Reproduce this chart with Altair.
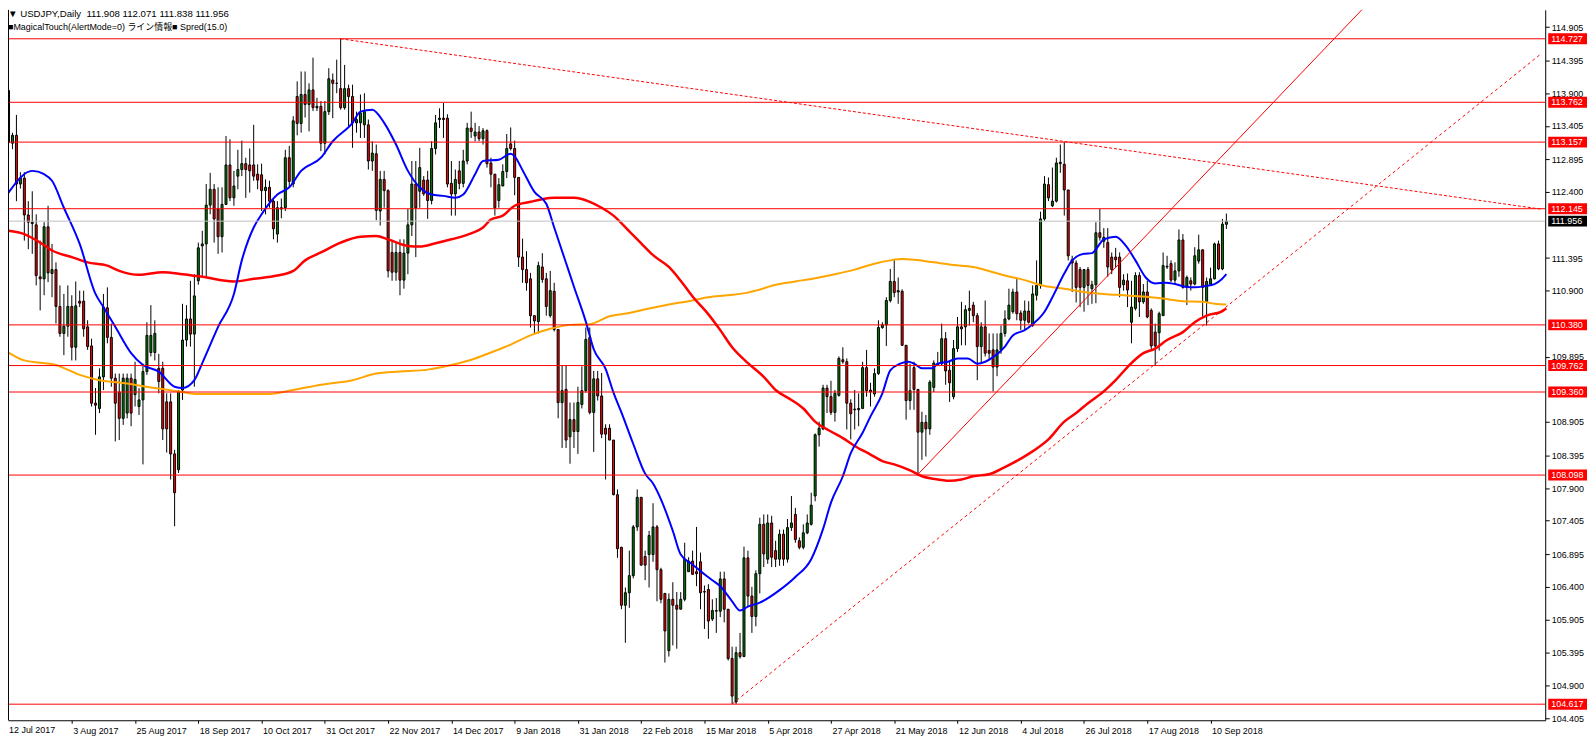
import altair as alt
import pandas as pd

# ---------------- data ----------------
OPEN = [
113.94,113.14,113.26,112.52,112.61,112.05,111.94,111.90,111.11,111.08,
111.87,111.16,111.22,110.66,110.25,110.36,110.66,110.04,110.74,110.74,
110.35,110.06,109.19,109.11,109.59,110.64,110.19,109.57,109.36,108.96,
109.04,109.57,109.32,109.14,109.24,109.67,109.96,109.96,109.72,109.72,
109.21,109.21,108.42,108.18,109.39,110.15,110.47,110.24,111.05,111.58,
111.61,112.20,112.44,112.14,111.72,112.21,112.81,112.31,112.64,112.74,
112.83,112.81,112.81,112.67,112.66,112.42,112.47,112.26,111.76,112.16,
112.16,112.92,112.52,113.85,113.44,113.88,113.73,113.95,113.70,113.70,
113.14,113.62,114.10,114.05,113.97,113.68,113.97,113.85,113.45,113.45,
113.42,113.42,112.87,112.98,112.11,112.59,112.42,111.48,111.18,111.48,
111.06,111.47,111.90,112.52,112.41,112.58,112.58,112.27,113.06,113.50,
113.52,113.52,112.53,112.37,112.72,112.53,112.87,113.37,113.25,113.31,
113.21,113.33,112.84,112.67,112.27,112.49,112.71,113.13,113.06,112.62,
111.41,111.22,111.08,110.52,110.43,111.26,111.08,110.52,110.89,110.31,
109.20,109.40,108.68,108.94,108.76,109.17,109.38,110.19,109.05,109.56,
109.30,108.81,108.81,108.63,107.80,107.00,106.12,106.31,106.57,107.31,
107.76,106.86,106.89,106.89,107.31,106.66,106.30,105.43,106.21,106.12,
106.06,106.21,106.63,106.79,106.63,106.78,106.33,106.36,105.91,106.03,
106.03,106.52,106.06,105.31,104.65,105.40,105.34,106.84,106.26,105.95,
106.60,107.35,106.82,107.37,106.95,106.82,107.20,106.82,107.30,107.50,
107.10,107.00,107.22,107.35,107.78,108.71,108.80,109.42,109.29,109.05,
109.31,109.85,109.82,109.19,109.10,109.09,109.11,109.73,109.39,109.33,
109.64,110.34,110.38,110.75,111.04,110.88,110.89,110.07,109.23,109.73,
109.40,108.75,108.90,108.80,109.43,109.79,109.79,110.17,109.69,109.29,
110.02,110.35,110.35,110.60,110.68,110.52,110.05,110.35,109.99,110.00,
109.74,110.00,110.25,110.47,110.58,110.88,110.56,110.45,110.59,110.37,
110.83,110.98,111.99,112.51,112.19,112.26,112.85,112.82,112.43,111.37,
111.32,111.22,110.95,111.22,110.93,110.99,111.78,111.65,111.63,111.41,
111.41,111.41,110.99,111.05,110.42,110.63,111.13,110.73,110.88,110.60,
110.27,110.26,110.52,111.26,111.31,111.06,111.20,111.67,110.95,111.05,
111.00,111.35,111.52,110.73,111.00,111.08,111.61,111.23,111.908]

HIGH = [
113.96,113.30,113.57,112.70,112.70,112.26,112.41,112.06,111.66,111.94,
112.19,111.61,111.33,110.98,110.85,110.98,110.83,111.04,110.90,110.90,
110.45,110.17,109.42,109.72,110.85,110.95,110.40,109.64,109.64,109.64,
109.64,109.64,109.82,109.42,109.79,110.42,110.68,110.45,109.94,109.82,
109.34,109.34,108.48,109.39,110.70,110.68,111.05,111.15,111.63,111.81,
112.52,112.69,112.52,112.47,112.47,113.25,113.20,112.72,113.04,113.18,
112.92,113.06,113.42,112.82,112.83,112.59,112.57,112.29,112.26,112.30,
113.04,113.10,113.55,114.08,114.23,114.23,114.05,114.44,113.83,113.78,
113.78,114.28,114.20,114.41,114.73,114.33,114.03,114.03,113.62,113.88,
113.90,113.50,113.17,113.12,112.72,112.72,112.44,111.66,111.63,111.68,
111.68,112.14,112.87,112.87,113.07,112.64,112.72,113.17,113.57,113.67,
113.75,113.58,112.87,112.74,112.87,113.04,113.45,113.62,113.45,113.40,
113.37,113.35,112.92,112.67,112.61,112.82,113.28,113.38,113.18,112.62,
111.69,111.50,111.17,110.52,111.34,111.47,111.17,111.20,111.02,110.31,
109.77,109.77,109.20,109.20,109.44,109.75,110.34,110.34,109.68,109.68,
109.65,108.87,108.87,108.63,107.88,107.01,106.39,106.95,107.34,107.88,
107.76,106.95,107.25,107.67,107.34,106.69,106.30,106.30,106.47,106.32,
106.32,107.07,106.85,106.95,107.31,106.92,106.42,106.44,106.21,106.23,
106.63,106.63,106.06,105.49,105.49,105.70,107.01,106.95,106.40,106.65,
107.45,107.50,107.50,107.48,107.10,107.27,107.27,107.43,107.78,107.60,
107.15,107.35,107.50,107.83,108.73,108.91,109.47,109.47,109.53,109.39,
109.90,110.04,109.87,109.25,109.39,109.34,109.82,110.00,109.50,109.72,
110.45,110.42,110.80,111.23,111.38,111.10,110.92,110.07,109.79,109.82,
109.40,109.06,109.01,109.54,109.84,109.97,110.40,110.27,109.84,110.15,
110.50,110.73,110.68,110.90,110.73,110.56,110.42,110.75,110.25,110.25,
110.25,110.37,110.60,110.93,110.93,111.08,110.60,110.75,110.74,110.98,
111.36,112.10,112.64,112.62,112.77,112.92,113.12,113.16,112.43,111.43,
111.36,111.26,111.23,111.26,111.05,111.94,112.14,111.85,111.85,111.48,
111.55,111.48,111.15,111.16,111.05,111.18,111.18,111.00,111.05,110.63,
110.40,110.58,111.48,111.43,111.36,111.33,111.83,111.76,111.13,111.10,
111.56,111.75,111.53,111.10,111.25,111.63,111.66,111.99,112.071]

LOW = [
112.92,113.05,112.26,112.45,111.66,111.53,111.46,110.98,110.60,110.83,
111.03,110.80,110.40,110.20,109.92,110.20,109.84,109.84,110.65,110.20,
110.00,109.14,108.71,109.04,109.39,110.10,109.44,108.61,108.63,108.86,
108.96,108.84,109.14,109.01,108.26,109.62,109.90,109.84,109.34,108.63,
108.44,108.03,107.32,108.13,109.24,110.05,110.05,109.44,110.99,111.10,
111.10,112.06,111.63,111.46,111.48,112.21,112.26,112.19,112.44,112.64,
112.31,112.39,112.57,112.44,112.11,112.06,112.16,111.68,111.63,112.00,
112.11,112.47,112.47,113.26,113.30,113.53,113.32,113.63,113.63,113.02,
112.97,113.57,113.52,113.90,113.65,113.65,113.40,113.07,113.30,113.22,
113.22,112.74,112.72,111.97,111.89,112.16,111.10,111.05,111.05,110.83,
110.93,111.15,111.73,111.41,112.16,112.34,111.99,112.21,112.97,113.37,
113.22,112.47,112.04,112.04,112.44,112.47,112.82,113.22,113.17,113.17,
113.12,112.77,112.47,112.04,112.16,112.49,112.61,113.03,112.35,111.26,
111.02,110.90,110.34,110.25,110.25,111.02,110.52,110.49,110.28,108.96,
108.51,108.51,108.27,108.51,108.42,109.11,109.35,109.02,108.45,109.23,
108.66,108.03,108.63,107.79,106.84,106.06,105.55,106.08,106.53,107.25,
106.72,106.50,106.39,106.78,106.18,106.15,105.25,105.34,105.51,105.46,
106.06,106.18,106.63,106.58,106.41,106.06,105.76,105.61,105.88,105.70,
105.94,105.86,105.28,104.62,104.62,105.31,105.34,106.10,105.70,105.80,
106.30,106.70,106.75,106.70,106.70,106.72,106.72,106.77,107.25,107.07,
106.97,106.97,107.20,107.33,107.70,108.53,108.78,109.04,109.01,108.91,
109.29,109.79,108.79,108.64,108.79,108.84,109.11,109.29,109.14,109.29,
109.62,110.32,110.06,110.72,110.80,110.70,110.06,108.94,109.09,109.09,
108.11,108.33,108.38,108.71,109.36,109.77,109.77,109.47,109.21,109.25,
109.97,110.07,110.07,110.37,110.42,109.54,109.80,109.90,109.85,109.37,
109.60,109.94,110.20,110.45,110.55,110.45,110.30,110.30,110.40,110.35,
110.75,110.93,111.96,112.26,112.17,112.24,112.69,112.04,111.36,110.88,
110.72,110.65,110.58,110.68,110.70,110.71,111.66,111.55,111.11,111.15,
111.25,110.80,110.90,110.65,110.10,110.60,110.50,110.70,110.48,110.00,
109.77,109.99,110.52,111.23,111.03,111.00,111.11,110.93,110.68,110.90,
110.98,111.31,110.50,110.37,110.98,111.07,111.21,111.21,111.838]

CLOSE = [
113.15,113.26,112.52,112.61,112.05,111.94,111.92,111.13,111.08,111.87,
111.17,111.22,110.66,110.25,110.36,110.66,110.04,110.67,110.71,110.32,
110.05,109.19,109.16,109.59,110.65,110.19,109.57,109.19,108.96,109.57,
109.57,109.04,109.55,109.24,109.67,110.22,110.22,110.25,109.52,108.80,
108.80,108.42,107.83,109.37,110.15,110.47,110.24,110.82,111.55,111.61,
112.20,112.44,111.99,111.72,112.21,112.81,112.31,112.49,112.74,112.83,
112.74,112.72,112.64,112.58,112.42,112.47,112.26,111.84,112.16,112.14,
112.92,112.56,113.48,113.44,113.88,113.73,113.95,113.68,113.68,113.14,
113.62,114.12,114.05,114.05,113.68,113.97,113.85,113.45,113.50,113.60,
113.62,112.87,112.99,112.12,112.59,112.42,111.20,111.18,111.48,111.06,
111.47,111.90,112.52,112.16,112.77,112.37,112.27,113.06,113.45,113.52,
113.50,112.52,112.37,112.59,112.53,112.87,113.37,113.32,113.31,113.21,
113.33,112.83,112.67,112.16,112.51,112.71,113.06,113.06,112.62,111.41,
111.22,111.02,110.52,110.44,111.28,111.07,110.66,110.90,110.31,109.20,
109.38,108.63,108.94,108.76,109.20,109.38,110.16,109.05,109.56,109.30,
108.72,108.72,108.63,107.80,106.98,106.12,106.31,106.57,107.31,107.76,
106.73,106.73,107.18,107.31,106.66,106.21,105.73,106.21,106.12,106.06,
106.21,106.82,106.79,106.59,106.60,106.31,106.32,105.88,106.04,106.04,
106.52,106.06,105.31,104.74,105.40,105.34,106.84,106.26,105.95,106.60,
107.35,106.90,107.37,106.85,106.82,107.20,106.82,107.30,107.37,107.12,
107.00,107.22,107.37,107.64,108.71,108.81,109.42,109.29,109.05,109.34,
109.87,109.82,109.19,109.03,109.09,109.11,109.73,109.38,109.36,109.64,
110.34,110.38,110.75,111.04,110.87,110.90,110.07,109.23,109.38,109.40,
108.75,108.90,108.80,109.51,109.80,109.78,110.17,109.68,109.50,110.02,
110.35,110.32,110.61,110.63,110.52,110.05,110.35,109.95,109.95,109.74,
110.00,110.25,110.47,110.68,110.88,110.55,110.45,110.59,110.42,110.85,
110.98,111.99,112.52,112.31,112.26,112.84,112.83,112.43,111.43,111.32,
110.95,110.95,111.22,110.98,110.99,111.78,111.71,111.71,111.26,111.22,
111.37,110.95,111.06,110.91,110.65,111.13,110.73,110.88,110.50,110.06,
110.06,110.55,111.28,111.27,111.06,111.20,111.67,110.95,111.10,111.00,
111.43,111.52,110.95,111.04,111.08,111.61,111.23,111.91,111.956]

# moving averages (bar index, value)
BLUE_I = [0,6,9,11,14,18,22,24,27,31,34,38,42,44,47,49,53,57,59,62,64,68,71,74,79,82,87,89,92,95,98,101,104,107,110,113,115,118,120,124,127,128,130,133,136,138,141,143,146,148,151,153,155,158,161,163,165,168,170,173,176,178,180,183,185,187,190,195,199,203,206,208,211,213,216,218,221,223,225.5,227.6,229,231,233.5,235,237.6,240,242.6,245,247,249,252,254,257,259,262,264,267,269,272,274,277,280,282.6,285,287.6,290,292.6,295,297.6,300,302.6,305,306.75,308]
BLUE_V = [112.39,112.72,112.67,112.57,112.16,111.61,110.85,110.65,110.35,109.95,109.77,109.67,109.44,109.42,109.54,109.80,110.35,110.85,111.36,111.86,112.06,112.36,112.47,112.72,112.92,113.17,113.45,113.62,113.65,113.45,113.12,112.72,112.47,112.36,112.34,112.31,112.36,112.67,112.87,112.89,112.98,112.94,112.73,112.40,112.22,111.86,111.32,110.96,110.43,110.01,109.71,109.35,109.05,108.57,108.12,107.97,107.73,107.25,106.89,106.74,106.59,106.50,106.41,106.18,106.04,106.10,106.16,106.35,106.55,106.82,107.28,107.68,108.08,108.43,108.74,108.99,109.34,109.69,109.79,109.82,109.79,109.72,109.72,109.79,109.82,109.87,109.87,109.79,109.82,109.89,110.05,110.22,110.30,110.39,110.58,110.80,111.16,111.36,111.46,111.47,111.68,111.72,111.58,111.36,111.10,111.01,111.02,111.00,110.96,110.95,110.97,111.00,111.07,111.15]

RED_I = [0,4,8,11,16,20,25,28,33,39,44,49,57,62,68,72,75,79,84,89,93,96,101,104,108,112,117,120,122,125,128,132,135,138,143,147,150,153,157,160,163,167,170,173,177,180,183,187,191,194,198,201,204,208,211,214,218,221,224,228,231,234,238,241,244,248,252,258,263,267,270,273,277,280,283,287,290,293,297,300,303,307,308]
RED_V = [111.81,111.76,111.63,111.51,111.41,111.33,111.28,111.20,111.14,111.18,111.15,111.11,111.04,111.08,111.13,111.20,111.36,111.48,111.63,111.72,111.73,111.68,111.58,111.57,111.62,111.68,111.77,111.86,111.98,112.04,112.19,112.25,112.29,112.31,112.31,112.25,112.16,112.04,111.80,111.62,111.44,111.26,111.05,110.81,110.54,110.30,110.04,109.80,109.59,109.39,109.24,109.11,108.91,108.76,108.66,108.54,108.41,108.31,108.26,108.17,108.08,108.04,108.01,108.03,108.08,108.11,108.22,108.42,108.64,108.91,109.04,109.19,109.37,109.54,109.74,109.95,110.02,110.15,110.27,110.42,110.52,110.59,110.63]

ORANGE_I = [0,4,12,18,23,30,37,43,48,66,72,79,87,93,99,106,112,118,122,127,132,137,142,147,152,157,162,167,172,177,182,187,189,194,199,204,209,214,219,223,226,229,234,239,244,249,252,257,262,267,272,277,282,287,292,297,302,305,308]
ORANGE_V = [109.96,109.84,109.77,109.62,109.54,109.49,109.42,109.37,109.33,109.33,109.39,109.47,109.54,109.64,109.67,109.70,109.77,109.87,109.96,110.08,110.22,110.32,110.38,110.39,110.51,110.56,110.63,110.69,110.74,110.80,110.83,110.87,110.90,110.99,111.04,111.09,111.15,111.22,111.31,111.36,111.38,111.37,111.33,111.29,111.26,111.18,111.13,111.06,110.97,110.93,110.88,110.85,110.83,110.81,110.78,110.74,110.73,110.70,110.69]

# trend lines: (bar index, price) end points
TREND_DOT_I = [84, 387.4]
TREND_DOT_V = [114.727, 112.14]
TREND_SOLID_I = [230, 345]
TREND_SOLID_V = [108.11, 115.34]
TREND_DASH_I = [183, 387.4]
TREND_DASH_V = [104.62, 114.49]

LEVELS = [114.727, 113.762, 113.157, 112.145, 110.380, 109.762, 109.360, 108.098, 104.617]
LAST_PRICE = 111.956

# axis ticks visible in the picture (the ones hidden under the price tags are left out)
Y_TICKS = [114.905, 114.395, 113.900, 113.405, 112.895, 112.400, 111.395, 110.900,
           109.895, 108.905, 108.395, 107.900, 107.405, 106.895, 106.400,
           105.905, 105.395, 104.900, 104.405]

DATE_LABELS = ["12 Jul 2017", "3 Aug 2017", "25 Aug 2017", "18 Sep 2017", "10 Oct 2017",
               "31 Oct 2017", "22 Nov 2017", "14 Dec 2017", "9 Jan 2018", "31 Jan 2018",
               "22 Feb 2018", "15 Mar 2018", "5 Apr 2018", "27 Apr 2018", "21 May 2018",
               "12 Jun 2018", "4 Jul 2018", "26 Jul 2018", "17 Aug 2018", "10 Sep 2018"]
DATE_IDX = [16 * k for k in range(len(DATE_LABELS))]

TITLE_1 = "\u25BC USDJPY,Daily\u00a0 111.908 112.071 111.838 111.956"
TITLE_2 = "\u25A0MagicalTouch(AlertMode=0) ライン情報\u25A0 Spred(15.0)"

# ---------------- chart ----------------
W, H = 1545, 714
FONT = "Liberation Sans"
XS = alt.Scale(domain=[1.125, 387.375], nice=False, zero=False)
YS = alt.Scale(domain=[104.3727, 115.1665], nice=False, zero=False)

label_expr = "[" + ",".join("'%s'" % s for s in DATE_LABELS) + "][round(datum.value/16)]"
XAX = alt.Axis(values=DATE_IDX[1:], labelExpr=label_expr, title=None, grid=False,
               orient="bottom", tickSize=3, labelPadding=3, labelAlign="left",
               labelBaseline="top", labelOffset=1, labelFont=FONT, labelFontSize=9,
               labelColor="black", domainColor="black", tickColor="black",
               labelOverlap=False, labelFlush=False, labelBound=False)
YAX = alt.Axis(orient="right", values=Y_TICKS, format=".3f", title=None, grid=False,
               tickSize=4, labelPadding=2, labelFont=FONT, labelFontSize=9,
               labelColor="black", domainColor="black", tickColor="black",
               labelOverlap=False, labelFlush=False, labelBound=False)


def X(field="i"):
    return alt.X(f"{field}:Q", scale=XS, axis=XAX)


def Y(field):
    return alt.Y(f"{field}:Q", scale=YS, axis=YAX)


candles = pd.DataFrame({"i": list(range(len(CLOSE))), "o": OPEN, "h": HIGH, "l": LOW, "c": CLOSE})

wicks = alt.Chart(candles).mark_rule(color="black", strokeWidth=1, clip=True).encode(
    x=X(), y=Y("l"), y2="h:Q")
bodies = alt.Chart(candles).mark_bar(size=2, stroke="black", strokeWidth=1, clip=True).encode(
    x=X(), y=Y("o"), y2="c:Q",
    fill=alt.condition("datum.c >= datum.o", alt.value("#008000"), alt.value("#ff0000")))


def ma(ix, vals, color, width):
    df = pd.DataFrame({"i": ix, "v": vals})
    return alt.Chart(df).mark_line(color=color, strokeWidth=width, clip=True,
                                   interpolate="monotone").encode(x=X(), y=Y("v"))


ma_orange = ma(ORANGE_I, ORANGE_V, "#ffa500", 2)
ma_red = ma(RED_I, RED_V, "#ff0000", 2.5)
ma_blue = ma(BLUE_I, BLUE_V, "#0000ff", 2)


def trend(ix, vals, dash=None):
    df = pd.DataFrame({"i": ix, "v": vals})
    kw = dict(color="#ff0000", strokeWidth=1, clip=True)
    if dash:
        kw["strokeDash"] = dash
    return alt.Chart(df).mark_line(**kw).encode(x=X(), y=Y("v"))


t_dot = trend(TREND_DOT_I, TREND_DOT_V, [3, 2])
t_solid = trend(TREND_SOLID_I, TREND_SOLID_V)
t_dash = trend(TREND_DASH_I, TREND_DASH_V, [3, 3])

levels_df = pd.DataFrame({"level": LEVELS})
level_rules = alt.Chart(levels_df).mark_rule(color="#ff0000", strokeWidth=1).encode(
    y=Y("level"), x=alt.value(0), x2=alt.value(W))
price_rule = alt.Chart(pd.DataFrame({"level": [LAST_PRICE]})).mark_rule(
    color="#c0c0c0", strokeWidth=1).encode(y=Y("level"), x=alt.value(0), x2=alt.value(W))

tags = pd.DataFrame({
    "level": LEVELS + [LAST_PRICE],
    "label": [f"{v:.3f}" for v in LEVELS + [LAST_PRICE]],
    "bg": ["#ff0000"] * len(LEVELS) + ["#000000"],
})
tag_boxes = alt.Chart(tags).transform_calculate(
    top="datum.level + 0.083", bot="datum.level - 0.083"
).mark_rect().encode(
    x=alt.value(W + 3), x2=alt.value(W + 42), y=Y("top"), y2="bot:Q",
    fill=alt.Color("bg:N", scale=None))
tag_text = alt.Chart(tags).mark_text(align="left", baseline="middle", font=FONT,
                                     fontSize=9, color="white").encode(
    x=alt.value(W + 6), y=Y("level"), text="label:N")

one = alt.Data(values=[{}])
left_border = alt.Chart(one).mark_rule(color="black", strokeWidth=1).encode(
    x=alt.value(0.5), y=alt.value(0), y2=alt.value(H))
first_date = alt.Chart(one).mark_text(align="left", baseline="top", font=FONT, fontSize=9,
                                      color="black").encode(
    x=alt.value(1), y=alt.value(H + 6), text=alt.value(DATE_LABELS[0]))
title1 = alt.Chart(one).mark_text(align="left", baseline="middle", fontSize=9.7,
                                  font="Liberation Sans, DejaVu Sans", color="black").encode(
    x=alt.value(0), y=alt.value(4), text=alt.value(TITLE_1))
title2 = alt.Chart(one).mark_text(align="left", baseline="middle", fontSize=9,
                                  font="Liberation Sans, Noto Sans CJK JP", color="black").encode(
    x=alt.value(0), y=alt.value(17), text=alt.value(TITLE_2))

chart = alt.layer(
    wicks, bodies, ma_orange, ma_red, ma_blue,
    level_rules, price_rule, t_dot, t_solid, t_dash,
    tag_boxes, tag_text, left_border, first_date, title1, title2,
).properties(
    width=W, height=H,
    autosize=alt.AutoSizeParams(type="none"),
    padding={"left": 0, "top": 0, "right": 43, "bottom": 21},
    background="white",
).configure_view(strokeWidth=0)

chart.save("out.html", embed_options={"renderer": "svg", "actions": False})
